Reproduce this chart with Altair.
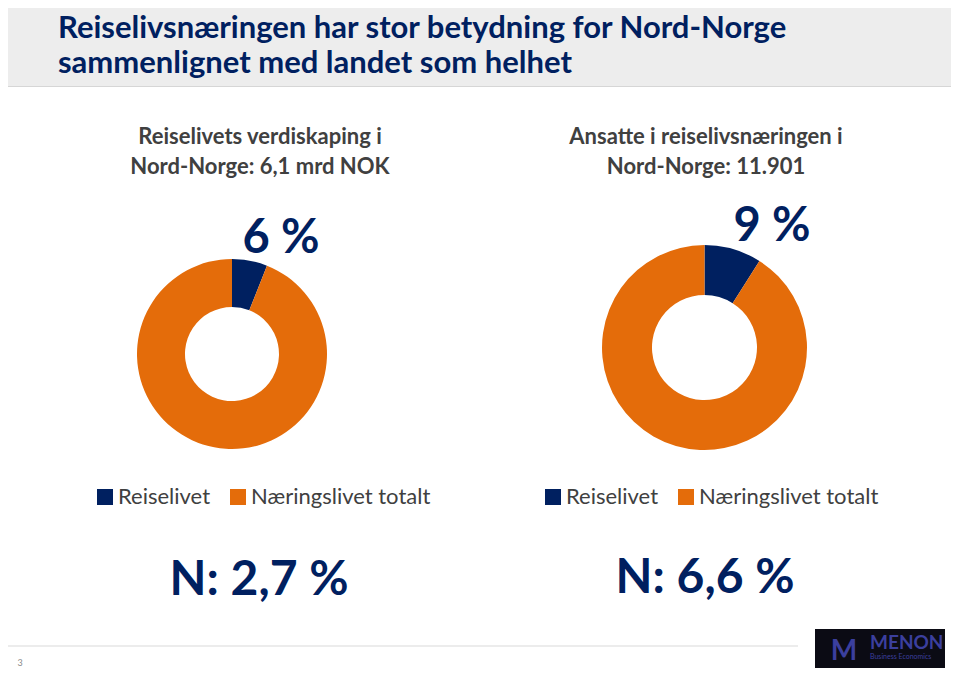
import altair as alt
import pandas as pd

# ---------------- data ----------------
categories = ["Reiselivet", "Næringslivet totalt"]
value_added_share = [6, 94]      # % of value creation in Nord-Norge
employment_share = [9, 91]       # % of employment in Nord-Norge
colors = ["#002060", "#E46C0A"]

main_title = ["Reiselivsnæringen har stor betydning for Nord-Norge",
              "sammenlignet med landet som helhet"]
left_subtitle = ["Reiselivets verdiskaping i", "Nord-Norge: 6,1 mrd NOK"]
right_subtitle = ["Ansatte i reiselivsnæringen i", "Nord-Norge: 11.901"]
big_labels = ["6 %", "9 %"]
national_labels = ["N: 2,7 %", "N: 6,6 %"]
page_number = "3"
logo_texts = ["MENON", "Business Economics", "M"]

# ---------------- layout ----------------
W, H = 943, 660
OX, OY = 8, 8
NAVY = "#002060"
GREY_TXT = "#404040"
FONT = "Lato"


def px(x):
    return x - OX


def py(y):
    return y - OY


one = pd.DataFrame({"k": [0]})


def text_layer(txt, x, y, size, color, weight="normal", align="center", line_h=None, font=FONT):
    df = pd.DataFrame({"t": [txt]})
    kw = dict(align=align, baseline="alphabetic", font=font, fontSize=size,
              fontWeight=weight, color=color, lineBreak="\n")
    if line_h:
        kw["lineHeight"] = line_h
    return alt.Chart(df).mark_text(**kw).encode(
        text="t:N", x=alt.value(px(x)), y=alt.value(py(y)))


def rect_layer(x1, y1, x2, y2, fill):
    return alt.Chart(one).mark_rect(color=fill).encode(
        x=alt.value(px(x1)), x2=alt.value(px(x2)),
        y=alt.value(py(y1)), y2=alt.value(py(y2)))


def rule_layer(x1, x2, y, color, width=1):
    return alt.Chart(one).mark_rule(color=color, strokeWidth=width).encode(
        x=alt.value(px(x1)), x2=alt.value(px(x2)), y=alt.value(py(y)))


def donut(values, cx, cy, r_out, r_in, lx, ly):
    df = pd.DataFrame({"category": categories, "share": values, "idx": [0, 1]})
    return alt.Chart(df).mark_arc(
        x=px(cx), y=py(cy), outerRadius=r_out, innerRadius=r_in
    ).encode(
        theta=alt.Theta("share:Q", stack=True),
        order=alt.Order("idx:Q"),
        color=alt.Color(
            "category:N",
            scale=alt.Scale(domain=categories, range=colors),
            legend=alt.Legend(
                title=None, orient="none", direction="horizontal",
                legendX=px(lx), legendY=py(ly),
                symbolType="square", symbolSize=256, symbolStrokeWidth=0,
                labelFont=FONT, labelFontSize=22, labelColor=GREY_TXT,
                labelOffset=2, columnPadding=16, labelLimit=0,
            ),
        ),
    )


layers = [
    rect_layer(0, 0, 959, 86, "#EDEDED"),
    rule_layer(0, 959, 86.5, "#D6D6D6"),
    text_layer(main_title[0], 58, 38, 31, NAVY, "bold", "left"),
    text_layer(main_title[1], 58, 73, 31, NAVY, "bold", "left"),
    text_layer("\n".join(left_subtitle), 260, 144, 22, GREY_TXT, "bold", "center", 30),
    text_layer("\n".join(right_subtitle), 706, 144, 22, GREY_TXT, "bold", "center", 30),
    text_layer(big_labels[0], 281, 253, 47, NAVY, "bold"),
    text_layer(big_labels[1], 772, 241, 47, NAVY, "bold"),
    text_layer(national_labels[0], 259, 595, 48, NAVY, "bold"),
    text_layer(national_labels[1], 705, 593, 48, NAVY, "bold"),
    rule_layer(0, 798, 646, "#D9D9D9"),
    text_layer(page_number, 20, 666, 9, "#8C8C8C"),
    rect_layer(815, 629, 945, 676, "#0B0B14"),
    text_layer(logo_texts[0], 870, 649, 19, "#3B3F9E", "bold", "left"),
    text_layer(logo_texts[1], 870, 659, 7, "#3B3F9E", "normal", "left"),
    text_layer(logo_texts[2], 844, 660, 28, "#3B3F9E", "bold", "center"),
]

donuts = alt.layer(
    donut(value_added_share, 232, 354, 95, 47, 94, 486),
    donut(employment_share, 704.5, 347.5, 102.5, 52.5, 542, 486),
).resolve_scale(color="independent")

chart = alt.layer(*layers, donuts).resolve_scale(color="independent").properties(
    width=W, height=H, padding=0,
    autosize=alt.AutoSizeParams(type="none"),
).configure_view(stroke=None)

chart.save("out.html", embed_options={"renderer": "svg", "actions": False})
